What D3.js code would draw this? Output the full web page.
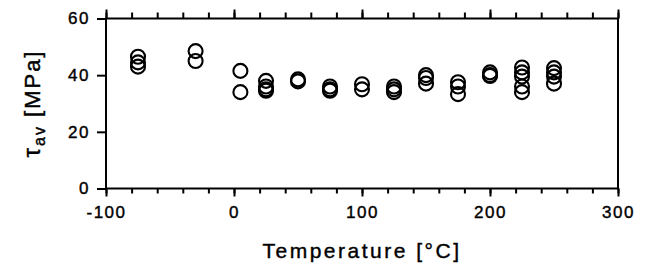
<!DOCTYPE html>
<html>
<head>
<meta charset="utf-8">
<script src="https://cdn.jsdelivr.net/npm/d3@7"></script>
<style>
  body { margin: 0; background: #fff; }
  svg text { font-family: "Liberation Sans", Arial, sans-serif; fill: #000; stroke: #000; stroke-width: 0.4px; }
</style>
</head>
<body>
<svg class="rootSvg" width="646" height="268"></svg>
<script>
var temperature = [-75, -75, -75,
                   -30, -30,
                   5, 5,
                   25, 25, 25, 25,
                   50, 50,
                   75, 75, 75,
                   100, 100,
                   125, 125, 125,
                   150, 150, 150,
                   175, 175, 175,
                   200, 200, 200,
                   225, 225, 225, 225, 225,
                   250, 250, 250, 250];
var tauAv = [46.5, 44.5, 43,
             48.5, 45,
             41.5, 34,
             38, 36, 35, 34.5,
             38.5, 37.8,
             36, 35, 34.5,
             36.8, 35,
             36, 35, 34,
             40, 39, 37,
             37.5, 36, 33.3,
             41, 40, 39.7,
             42.7, 41, 39.5, 36, 34,
             42.5, 41, 39.5, 37];
var xTicks = [-100, 0, 100, 200, 300];
var xMinor = d3.range(-100, 301, 20);
var yTicks = [0, 20, 40, 60];

// plot box (note: "top" is reserved by window, so use plotTop)
var plotLeft = 106, plotRight = 618, plotTop = 18.5, plotBottom = 188.5;

var x = d3.scaleLinear().domain([-100, 300]).range([plotLeft, plotRight]);
var y = d3.scaleLinear().domain([0, 60]).range([plotBottom, plotTop]);

var svg = d3.select('.rootSvg');

function plainNumber(d) {
    return String(d);   // keep ASCII hyphen like the original
}

function styleAxis(g) {
    g.select('.domain').remove();
    g.selectAll('line').attr('stroke', '#000').attr('stroke-width', 2);
    g.selectAll('text')
        .attr('font-size', 17)
        .attr('letter-spacing', 1.5)
        .attr('font-family', '"Liberation Sans", Arial, sans-serif');
}

// minor ticks, top and bottom
svg.append('g')
    .attr('transform', `translate(0, ${plotBottom})`)
    .call(d3.axisBottom(x).tickValues(xMinor).tickSize(5).tickFormat(''))
    .call(styleAxis);
svg.append('g')
    .attr('transform', `translate(0, ${plotTop})`)
    .call(d3.axisTop(x).tickValues(xMinor).tickSize(6).tickFormat(''))
    .call(styleAxis);

// major ticks
svg.append('g')
    .attr('transform', `translate(0, ${plotBottom})`)
    .call(d3.axisBottom(x).tickValues(xTicks).tickSize(8).tickPadding(9).tickFormat(plainNumber))
    .call(styleAxis);
svg.append('g')
    .attr('transform', `translate(0, ${plotTop})`)
    .call(d3.axisTop(x).tickValues(xTicks).tickSize(9).tickFormat(''))
    .call(styleAxis);
svg.append('g')
    .attr('transform', `translate(${plotLeft}, 0)`)
    .call(d3.axisLeft(y).tickValues(yTicks).tickSize(9).tickPadding(7).tickFormat(plainNumber))
    .call(styleAxis);

// frame
svg.append('rect')
    .attr('x', plotLeft)
    .attr('y', plotTop)
    .attr('width', plotRight - plotLeft)
    .attr('height', plotBottom - plotTop)
    .attr('fill', 'none')
    .attr('stroke', '#000')
    .attr('stroke-width', 2);

// points
svg.append('g')
    .selectAll('circle')
    .data(temperature)
    .enter()
    .append('circle')
        .attr('cx', function (d) { return x(d); })
        .attr('cy', function (d, i) { return y(tauAv[i]); })
        .attr('r', 7)
        .attr('fill', 'none')
        .attr('stroke', '#000')
        .attr('stroke-width', 2.1);

// axis titles
svg.append('text')
    .attr('x', (plotLeft + plotRight) / 2)
    .attr('y', 258)
    .attr('text-anchor', 'middle')
    .attr('font-size', 21)
    .attr('letter-spacing', 2.5)
    .text('Temperature [°C]');

var yTitle = svg.append('text')
    .attr('transform', `translate(40, ${(plotTop + plotBottom) / 2}) rotate(-90)`)
    .attr('text-anchor', 'middle')
    .attr('font-size', 22)
    .attr('letter-spacing', 2);
yTitle.append('tspan').attr('font-size', 24).text('τ');
yTitle.append('tspan').attr('font-size', 16).attr('dy', 5).text('av');
yTitle.append('tspan').attr('dy', -5).text(' [MPa]');
</script>
</body>
</html>
